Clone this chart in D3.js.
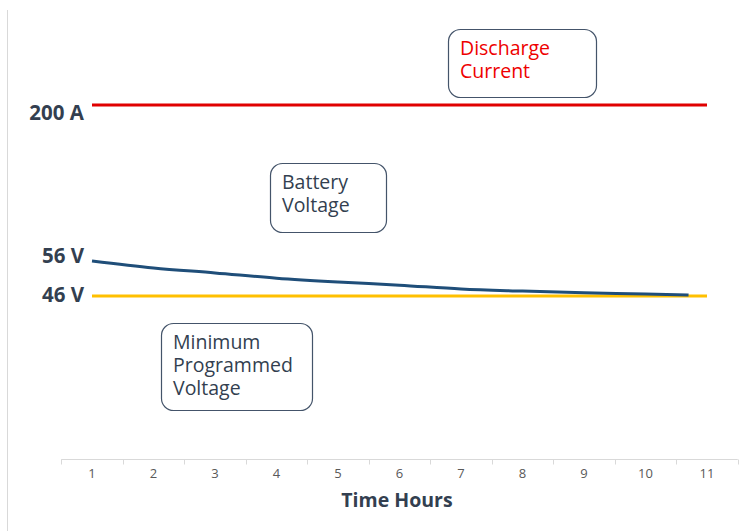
<!DOCTYPE html>
<html>
  <head>
    <title>Battery Discharge</title>
    <meta charset="utf-8">
    <script src="https://d3js.org/d3.v7.min.js"></script>
    <style>
      body { margin: 0; background: #fff; }
      text { font-family: "Open Sans", "Liberation Sans", sans-serif; }
    </style>
  </head>

  <body>

    <svg width="745" height="531"></svg>

    <script>

      // data
      var hours = [1, 2, 3, 4, 5, 6, 7, 8, 9, 10, 11];
      var batteryTime = [1, 2, 3, 4, 5, 6, 7, 8, 9, 10, 10.7];
      var batteryVolts = [56, 54, 52.6, 51.1, 50, 49.1, 48, 47.4, 46.9, 46.6, 46.3];
      var currentTime = [1, 11];
      var currentAmps = [200, 200];
      var minVoltTime = [1, 11];
      var minVolts = [46, 46];
      var voltTicks = [56, 46];
      var ampTicks = [200];

      var svg = d3.select("svg");

      var x = d3.scaleLinear().domain([1, 11]).range([92, 707]);
      var yV = d3.scaleLinear().domain([46, 56]).range([296, 261]);
      var yA = d3.scaleLinear().domain([0, 200]).range([459, 105]);

      // left frame line
      svg.append("line")
          .attr("x1", 7.5).attr("x2", 7.5)
          .attr("y1", 10).attr("y2", 531)
          .attr("stroke", "#d9d9d9");

      // x axis
      var axisY = 459.5;
      svg.append("line")
          .attr("x1", x(0.5)).attr("x2", x(11.5))
          .attr("y1", axisY).attr("y2", axisY)
          .attr("stroke", "#d9d9d9");

      svg.selectAll(".tickmark")
          .data(d3.range(0.5, 12, 1))
        .enter().append("line")
          .attr("class", "tickmark")
          .attr("x1", function(d) { return Math.round(x(d)) + 0.5; })
          .attr("x2", function(d) { return Math.round(x(d)) + 0.5; })
          .attr("y1", axisY).attr("y2", axisY + 5)
          .attr("stroke", "#d9d9d9");

      svg.selectAll(".ticklabel")
          .data(hours)
        .enter().append("text")
          .attr("class", "ticklabel")
          .attr("x", function(d) { return x(d); })
          .attr("y", 478)
          .attr("text-anchor", "middle")
          .attr("font-size", 13)
          .attr("fill", "#595959")
          .text(function(d) { return d; });

      svg.append("text")
          .attr("x", 397).attr("y", 507)
          .attr("text-anchor", "middle")
          .attr("font-size", 19.5)
          .attr("font-weight", "bold")
          .attr("fill", "#333f50")
          .text("Time Hours");

      // series lines
      var line = d3.line()
          .x(function(d) { return x(d[0]); })
          .y(function(d) { return d[1]; });

      svg.append("path")
          .attr("d", line(currentTime.map(function(t, i) { return [t, yA(currentAmps[i])]; })))
          .attr("fill", "none")
          .attr("stroke", "#e00000")
          .attr("stroke-width", 3);

      svg.append("path")
          .attr("d", line(minVoltTime.map(function(t, i) { return [t, yV(minVolts[i])]; })))
          .attr("fill", "none")
          .attr("stroke", "#ffc000")
          .attr("stroke-width", 3);

      svg.append("path")
          .attr("d", line.curve(d3.curveMonotoneX)(batteryTime.map(function(t, i) { return [t, yV(batteryVolts[i])]; })))
          .attr("fill", "none")
          .attr("stroke", "#1f4e79")
          .attr("stroke-width", 3);

      // value labels on the left (nudged as in the original)
      var valueLabels = ampTicks.map(function(a) { return {y: yA(a) + 7.5, t: a + " A"}; })
          .concat(voltTicks.map(function(v, i) { return {y: yV(v) + (i === 0 ? -5.5 : -1), t: v + " V"}; }));

      svg.selectAll(".vlabel")
          .data(valueLabels)
        .enter().append("text")
          .attr("class", "vlabel")
          .attr("x", 84)
          .attr("y", function(d) { return d.y; })
          .attr("dy", "0.36em")
          .attr("text-anchor", "end")
          .attr("font-size", 20.5)
          .attr("font-weight", "bold")
          .attr("fill", "#333f50")
          .text(function(d) { return d.t; });

      // callout boxes
      var callouts = [
        {x: 448, y: 29, w: 148, h: 68, lines: ["Discharge", "Current"], color: "#ee0000"},
        {x: 270, y: 163, w: 116, h: 69, lines: ["Battery", "Voltage"], color: "#333f50"},
        {x: 161, y: 323, w: 151, h: 87, lines: ["Minimum", "Programmed", "Voltage"], color: "#333f50"}
      ];

      var box = svg.selectAll(".callout")
          .data(callouts)
        .enter().append("g")
          .attr("class", "callout");

      box.append("rect")
          .attr("x", function(d) { return d.x + 0.5; })
          .attr("y", function(d) { return d.y + 0.5; })
          .attr("width", function(d) { return d.w; })
          .attr("height", function(d) { return d.h; })
          .attr("rx", 12)
          .attr("fill", "#fff")
          .attr("stroke", "#44546a")
          .attr("stroke-width", 1.2);

      box.each(function(d) {
        d3.select(this).selectAll("text")
            .data(d.lines)
          .enter().append("text")
            .attr("x", d.x + 12)
            .attr("y", function(s, i) { return d.y + 19 + i * 23; })
            .attr("dy", "0.35em")
            .attr("font-size", 19.5)
            .attr("fill", d.color)
            .text(function(s) { return s; });
      });

    </script>
  </body>
</html>
